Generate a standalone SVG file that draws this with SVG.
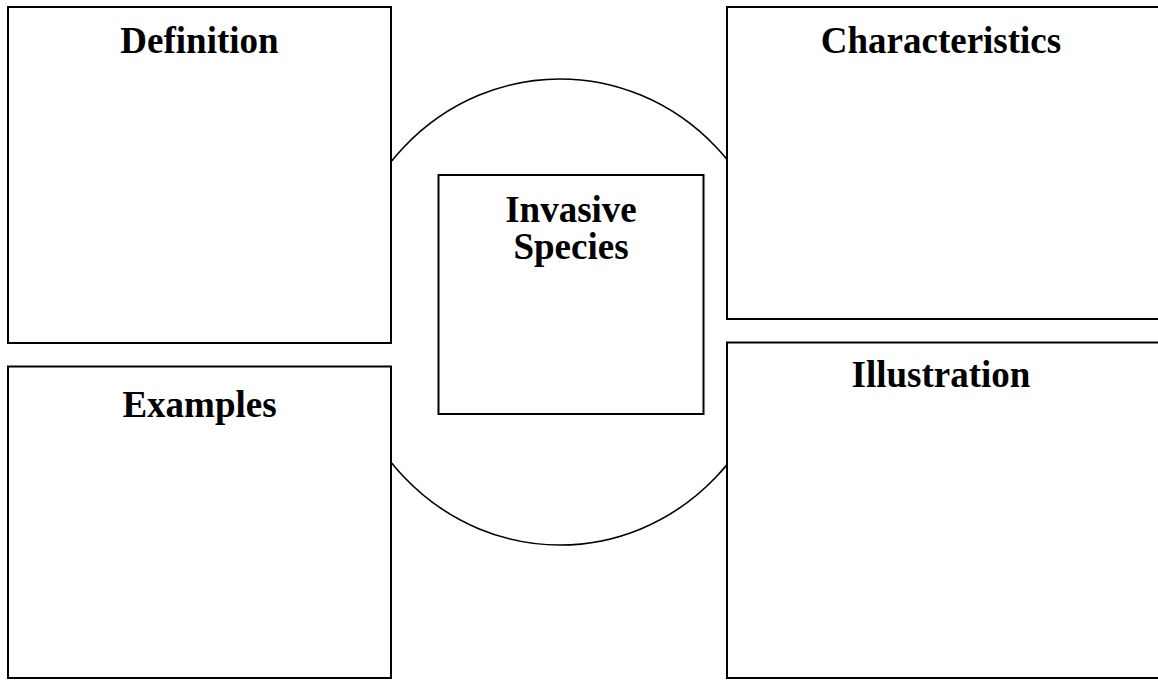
<svg xmlns="http://www.w3.org/2000/svg" width="1158" height="680" viewBox="0 0 1158 680">
<style>
.box{fill:#fff;stroke:#000;stroke-width:2}
.lbl{font-family:"Liberation Serif","Times New Roman",serif;font-weight:bold;font-size:37px;fill:#000;text-anchor:middle}
</style>
<defs><clipPath id="mid"><rect x="391" y="0" width="336" height="680"/></clipPath></defs>
<rect width="1158" height="680" fill="#fff"/>
<g id="center-circle"><ellipse cx="560" cy="312" rx="221" ry="233" fill="#fff" stroke="#000" stroke-width="1.6" clip-path="url(#mid)"/></g>
<g id="connectors"></g>
<g id="definition"><rect class="box" x="8" y="7" width="383" height="336"/><text class="lbl" x="199.5" y="53">Definition</text></g>
<g id="examples"><rect class="box" x="8" y="366.5" width="383" height="311.5"/><text class="lbl" x="199.5" y="417">Examples</text></g>
<g id="characteristics"><rect class="box" x="727" y="7" width="440" height="312"/><text class="lbl" x="941" y="53">Characteristics</text></g>
<g id="illustration"><rect class="box" x="727" y="342.5" width="440" height="335.5"/><text class="lbl" x="941" y="387">Illustration</text></g>
<g id="invasive-species"><rect class="box" x="438.5" y="175" width="265" height="239"/><text class="lbl" x="571" y="222">Invasive</text><text class="lbl" x="571" y="259">Species</text></g>
</svg>
